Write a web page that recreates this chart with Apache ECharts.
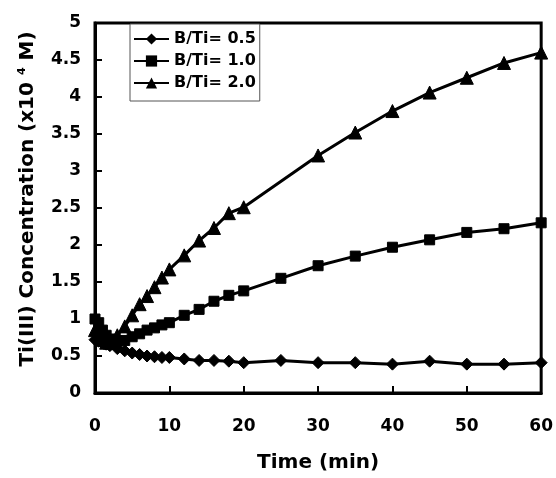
<!DOCTYPE html>
<html>
<head>
<meta charset="utf-8">
<script src="https://cdn.jsdelivr.net/npm/echarts@6/dist/echarts.min.js"></script>
<style>html,body{margin:0;padding:0;background:#fff}#c{width:556px;height:478px}</style>
</head>
<body>
<div id="c"></div>
<script>
const seriesNames = ['B/Ti= 0.5', 'B/Ti= 1.0', 'B/Ti= 2.0'];
const time05 = [0, 0.5, 1, 1.5, 2, 3, 4, 5, 6, 7, 8, 9, 10, 12, 14, 16, 18, 20, 25, 30, 35, 40, 45, 50, 55, 60];
const conc05 = [0.72, 0.7, 0.68, 0.66, 0.64, 0.6, 0.57, 0.54, 0.52, 0.5, 0.49, 0.48, 0.48, 0.46, 0.44, 0.44, 0.43, 0.41, 0.44, 0.41, 0.41, 0.39, 0.43, 0.39, 0.39, 0.41];
const time10 = [0, 0.5, 1, 1.5, 2, 3, 4, 5, 6, 7, 8, 9, 10, 12, 14, 16, 18, 20, 25, 30, 35, 40, 45, 50, 55, 60];
const conc10 = [1.0, 0.95, 0.85, 0.78, 0.73, 0.7, 0.71, 0.76, 0.8, 0.85, 0.88, 0.92, 0.95, 1.05, 1.13, 1.24, 1.32, 1.38, 1.55, 1.72, 1.85, 1.97, 2.07, 2.17, 2.22, 2.3];
const time20 = [0, 0.5, 1, 1.5, 2, 3, 4, 5, 6, 7, 8, 9, 10, 12, 14, 16, 18, 20, 30, 35, 40, 45, 50, 55, 60];
const conc20 = [0.85, 0.78, 0.72, 0.68, 0.68, 0.78, 0.9, 1.05, 1.2, 1.31, 1.43, 1.56, 1.67, 1.86, 2.06, 2.23, 2.43, 2.51, 3.21, 3.52, 3.81, 4.06, 4.26, 4.46, 4.6];
const xTicks = [0, 10, 20, 30, 40, 50, 60];
const yTicks = [0, 0.5, 1, 1.5, 2, 2.5, 3, 3.5, 4, 4.5, 5];

const pair = (t, v) => t.map((x, i) => [x, v[i]]);
const font = '"DejaVu Sans", Arial, sans-serif';
const symbols = ['diamond', 'rect', 'triangle'];
const sizes = [12, 10, 13];
const datasets = [pair(time05, conc05), pair(time10, conc10), pair(time20, conc20)];

const chart = echarts.init(document.getElementById('c'), null, {renderer: 'canvas'});
chart.setOption({
  animation: false,
  backgroundColor: '#fff',
  grid: {left: 95, right: 14, top: 23, bottom: 85, show: true, borderColor: '#000', borderWidth: 3, backgroundColor: 'transparent'},
  legend: {
    orient: 'vertical', left: 130, top: 24,
    backgroundColor: '#fff', borderColor: '#555', borderWidth: 1,
    padding: [7, 4, 10, 3], itemGap: 6, itemWidth: 35, itemHeight: 14,
    textStyle: {fontFamily: font, fontWeight: 'bold', fontSize: 16, color: '#000'},
    data: seriesNames
  },
  xAxis: {
    type: 'value', min: xTicks[0], max: xTicks[xTicks.length - 1], interval: 10,
    name: 'Time (min)', nameLocation: 'middle', nameGap: 60,
    nameTextStyle: {fontFamily: font, fontWeight: 'bold', fontSize: 20, color: '#000'},
    axisLine: {lineStyle: {color: '#000', width: 3}},
    axisTick: {inside: true, length: 7, lineStyle: {color: '#000', width: 2}},
    axisLabel: {margin: 25, fontFamily: font, fontWeight: 'bold', fontSize: 17, color: '#000'},
    splitLine: {show: false}
  },
  yAxis: {
    type: 'value', min: yTicks[0], max: yTicks[yTicks.length - 1], interval: 0.5,
    name: '{a|Ti(III) Concentration (x10 }{s|4}{a| M)}', nameLocation: 'middle', nameGap: 57,
    nameTextStyle: {
      padding: [0, 0, 0, 18],
      rich: {
        a: {fontFamily: font, fontWeight: 'bold', fontSize: 20, color: '#000'},
        s: {fontFamily: font, fontWeight: 'bold', fontSize: 11, color: '#000', verticalAlign: 'top', padding: [0, 0, 10, 0]}
      }
    },
    axisLine: {lineStyle: {color: '#000', width: 3}},
    axisTick: {inside: true, length: 7, lineStyle: {color: '#000', width: 2}},
    axisLabel: {margin: 14, fontFamily: font, fontWeight: 'bold', fontSize: 17, color: '#000'},
    splitLine: {show: false}
  },
  series: seriesNames.map((n, i) => ({
    name: n, type: 'line', data: datasets[i],
    symbol: symbols[i], symbolSize: sizes[i], showAllSymbol: true,
    lineStyle: {color: '#000', width: 3},
    itemStyle: {color: '#000', borderColor: '#000'},
    connectNulls: true
  }))
});
</script>
</body>
</html>
